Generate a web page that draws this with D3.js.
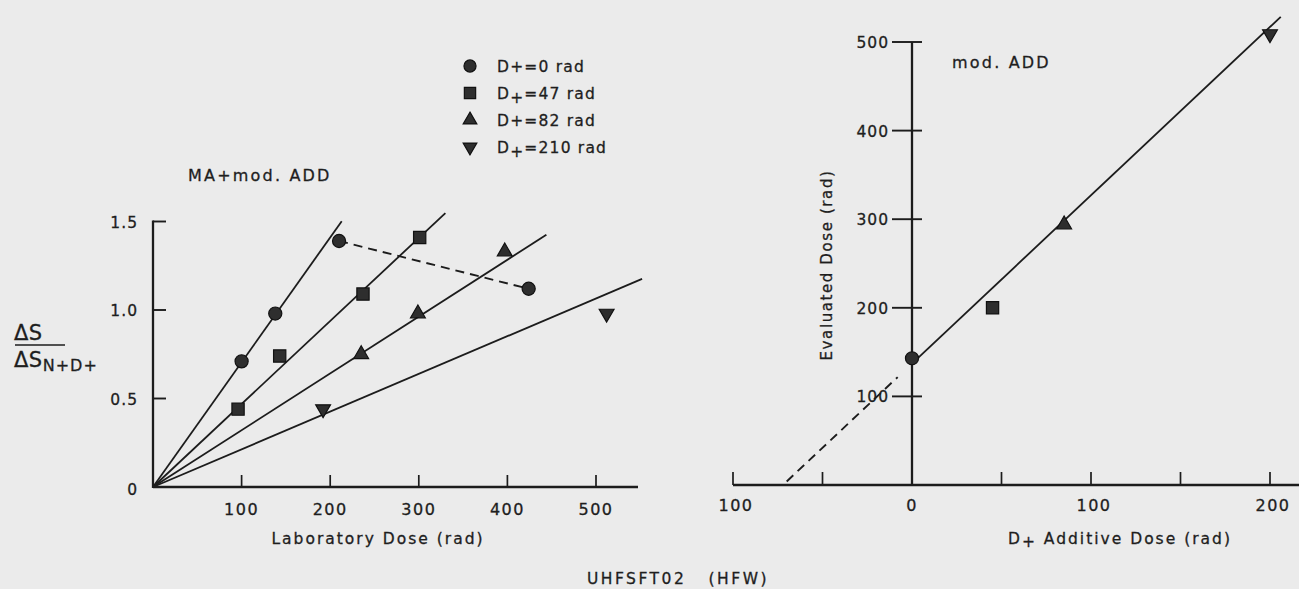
<!DOCTYPE html>
<html>
<head>
<meta charset="utf-8">
<script src="https://cdn.jsdelivr.net/npm/d3@7"></script>
<style>
  html, body { margin: 0; padding: 0; background: #ebebeb; }
  svg { display: block; }
  text { font-family: "DejaVu Sans", "Liberation Sans", sans-serif; fill: #1e1e1e; stroke: #1e1e1e; stroke-width: 0.3px; }
</style>
</head>
<body>
<div id="chart"></div>
<script>
// left panel: ratio vs laboratory dose, one series per additive dose
const seriesNames = ["D+=0 rad", "D₊=47 rad", "D+=82 rad", "D₊=210 rad"];
const seriesSymbols = ["circle", "square", "triangle", "triangleDown"];
const labDose = [[100, 138, 210], [96, 143, 237, 301], [235, 299, 397], [192, 512]];
const ratio = [[0.71, 0.98, 1.39], [0.44, 0.74, 1.09, 1.41], [0.75, 0.98, 1.33], [0.44, 0.98]];
const fitSlope = [0.00705, 0.00469, 0.00321, 0.00213];
const fitEnd = [213, 330, 444, 552];
const dashedDose = [210, 424];
const dashedRatio = [1.39, 1.12];
const leftXTicks = [100, 200, 300, 400, 500];
const leftYTicks = [0, 0.5, 1.0, 1.5];

// right panel: evaluated dose vs additive dose
const additiveDose = [0, 45, 85, 200];
const evaluatedDose = [143, 200, 294, 509];
const rightIntercept = 137;
const rightSlope = 1.9;
const rightFitRange = [0, 206];
const rightDashRange = [-70, -8];
const rightXTicks = [-100, -50, 0, 50, 100, 150, 200];
const rightXLabels = [-100, 0, 100, 200];
const rightYTicks = [100, 200, 300, 400, 500];

const W = 1299, H = 589;
const ink = "#1c1c1c";

const svg = d3.select("#chart").append("svg")
  .attr("width", W)
  .attr("height", H);

svg.append("rect").attr("width", W).attr("height", H).attr("fill", "#ebebeb");

// marker sizes (d3 symbol area) tuned so all shapes look about 13px wide
const symbolSize = { circle: 135, square: 150, triangle: 95, triangleDown: 95 };

function drawMarker(g, name, x, y, scale) {
  const k = scale || 1;
  const type = name === "circle" ? d3.symbolCircle
    : name === "square" ? d3.symbolSquare
    : d3.symbolTriangle;
  const rot = name === "triangleDown" ? 180 : 0;
  g.append("path")
    .attr("d", d3.symbol().type(type).size(symbolSize[name] * k)())
    .attr("transform", `translate(${x},${y}) rotate(${rot})`)
    .attr("fill", "#2e2e2e")
    .attr("stroke", "#111")
    .attr("stroke-width", 1.2);
}

// ---------- left panel ----------
const xL = d3.scaleLinear().domain([0, 500]).range([153, 596]);
const yL = d3.scaleLinear().domain([0, 1.5]).range([487, 221.5]);

const left = svg.append("g");

left.append("line")
  .attr("x1", xL(0)).attr("x2", 638)
  .attr("y1", yL(0)).attr("y2", yL(0))
  .attr("stroke", ink).attr("stroke-width", 2.3);
left.append("line")
  .attr("x1", xL(0)).attr("x2", xL(0))
  .attr("y1", yL(0) + 1).attr("y2", yL(1.5) - 1)
  .attr("stroke", ink).attr("stroke-width", 2.3);

left.selectAll(".xt").data(leftXTicks).join("line")
  .attr("x1", d => xL(d)).attr("x2", d => xL(d))
  .attr("y1", yL(0)).attr("y2", yL(0) - 12)
  .attr("stroke", ink).attr("stroke-width", 1.7);

left.selectAll(".xl").data(leftXTicks).join("text")
  .attr("x", d => xL(d)).attr("y", 515)
  .attr("text-anchor", "middle")
  .attr("font-size", 16).attr("letter-spacing", 1.5)
  .text(d => d);

left.selectAll(".yt").data(leftYTicks.filter(d => d > 0)).join("line")
  .attr("x1", xL(0)).attr("x2", xL(0) + 13)
  .attr("y1", d => yL(d)).attr("y2", d => yL(d))
  .attr("stroke", ink).attr("stroke-width", 1.9);

left.selectAll(".yl").data(leftYTicks).join("text")
  .attr("x", 138).attr("y", d => yL(d) + (d === 0 ? 8 : 6))
  .attr("text-anchor", "end")
  .attr("font-size", 15.5).attr("letter-spacing", 1)
  .text(d => d === 0 ? "0" : d3.format(".1f")(d));

left.append("text")
  .attr("x", 378).attr("y", 544)
  .attr("text-anchor", "middle")
  .attr("font-size", 15.5).attr("letter-spacing", 2)
  .text("Laboratory Dose (rad)");

// y label as a fraction
const frac = left.append("g");
frac.append("text")
  .attr("x", 14).attr("y", 340)
  .attr("font-size", 21).attr("letter-spacing", 0.5)
  .text("ΔS");
frac.append("line")
  .attr("x1", 15).attr("x2", 65)
  .attr("y1", 345).attr("y2", 345)
  .attr("stroke", ink).attr("stroke-width", 1.6);
const den = frac.append("text")
  .attr("x", 14).attr("y", 367)
  .attr("font-size", 21).attr("letter-spacing", 0.5);
den.append("tspan").text("ΔS");
den.append("tspan")
  .attr("dy", 4).attr("font-size", 16).attr("letter-spacing", 1)
  .text("N+D+");

left.append("text")
  .attr("x", 188).attr("y", 181)
  .attr("font-size", 16).attr("letter-spacing", 2.2)
  .text("MA+mod. ADD");

seriesNames.forEach((name, i) => {
  left.append("line")
    .attr("x1", xL(0)).attr("y1", yL(0))
    .attr("x2", xL(fitEnd[i])).attr("y2", yL(fitSlope[i] * fitEnd[i]))
    .attr("stroke", ink).attr("stroke-width", 1.8);
});

left.append("path")
  .attr("d", d3.line().x(d => xL(d[0])).y(d => yL(d[1]))(d3.zip(dashedDose, dashedRatio)))
  .attr("fill", "none").attr("stroke", ink)
  .attr("stroke-width", 1.9).attr("stroke-dasharray", "9,6");

seriesNames.forEach((name, i) => {
  labDose[i].forEach((x, j) => drawMarker(left, seriesSymbols[i], xL(x), yL(ratio[i][j])));
});
drawMarker(left, "circle", xL(dashedDose[1]), yL(dashedRatio[1]));

// legend
const legend = svg.append("g");
seriesNames.forEach((name, i) => {
  const y = 66 + i * 27;
  drawMarker(legend, seriesSymbols[i], 470, y, 0.85);
  const t = legend.append("text")
    .attr("x", 497).attr("y", y + 6)
    .attr("font-size", 15.5).attr("letter-spacing", 1.2);
  const sub = name.includes("₊");
  t.append("tspan").text("D");
  t.append("tspan").attr("dy", sub ? 4 : 0).text("+");
  t.append("tspan").attr("dy", sub ? -4 : 0).text("=" + name.split("=")[1]);
});

// ---------- right panel ----------
const xR = d3.scaleLinear().domain([-100, 200]).range([733, 1270]);
const yR = d3.scaleLinear().domain([0, 500]).range([485, 42]);

const right = svg.append("g");

right.append("line")
  .attr("x1", xR(-100)).attr("x2", W)
  .attr("y1", yR(0)).attr("y2", yR(0))
  .attr("stroke", ink).attr("stroke-width", 2.3);
right.append("line")
  .attr("x1", xR(0)).attr("x2", xR(0))
  .attr("y1", yR(0)).attr("y2", yR(500))
  .attr("stroke", ink).attr("stroke-width", 2.3);

right.selectAll(".xt").data(rightXTicks.filter(d => d !== 0)).join("line")
  .attr("x1", d => xR(d)).attr("x2", d => xR(d))
  .attr("y1", yR(0)).attr("y2", yR(0) - 13)
  .attr("stroke", ink).attr("stroke-width", 1.7);

right.selectAll(".xl").data(rightXLabels).join("text")
  .attr("x", d => xR(d) + (d === 0 ? 0 : 3)).attr("y", 511)
  .attr("text-anchor", "middle")
  .attr("font-size", 16).attr("letter-spacing", 1.5)
  .text(d => Math.abs(d));

right.selectAll(".yt").data(rightYTicks).join("line")
  .attr("x1", xR(0) - 20).attr("x2", xR(0) + 10)
  .attr("y1", d => yR(d)).attr("y2", d => yR(d))
  .attr("stroke", ink).attr("stroke-width", 1.9);

right.selectAll(".yl").data(rightYTicks).join("text")
  .attr("x", 889).attr("y", d => yR(d) + 6)
  .attr("text-anchor", "end")
  .attr("font-size", 15.5).attr("letter-spacing", 1)
  .text(d => d);

const rx = right.append("text")
  .attr("x", 1008).attr("y", 544)
  .attr("font-size", 15.5).attr("letter-spacing", 2);
rx.append("tspan").text("D");
rx.append("tspan").attr("dy", 3).text("+");
rx.append("tspan").attr("dy", -3).text(" Additive Dose (rad)");

right.append("text")
  .attr("transform", "translate(832,265) rotate(-90)")
  .attr("text-anchor", "middle")
  .attr("font-size", 15).attr("letter-spacing", 1.6)
  .text("Evaluated Dose (rad)");

right.append("text")
  .attr("x", 952).attr("y", 68)
  .attr("font-size", 16).attr("letter-spacing", 2.2)
  .text("mod. ADD");

const fitLine = d3.line().x(d => xR(d)).y(d => yR(rightIntercept + rightSlope * d));
right.append("path")
  .attr("d", fitLine(rightFitRange))
  .attr("fill", "none").attr("stroke", ink).attr("stroke-width", 1.8);
right.append("path")
  .attr("d", fitLine(rightDashRange))
  .attr("fill", "none").attr("stroke", ink)
  .attr("stroke-width", 1.9).attr("stroke-dasharray", "9,6");

additiveDose.forEach((x, i) => drawMarker(right, seriesSymbols[i], xR(x), yR(evaluatedDose[i])));

// caption
svg.append("text")
  .attr("x", 678).attr("y", 584)
  .attr("text-anchor", "middle")
  .attr("font-size", 15.5).attr("letter-spacing", 2.5)
  .style("white-space", "pre")
  .text("UHFSFT02   (HFW)");
</script>
</body>
</html>
